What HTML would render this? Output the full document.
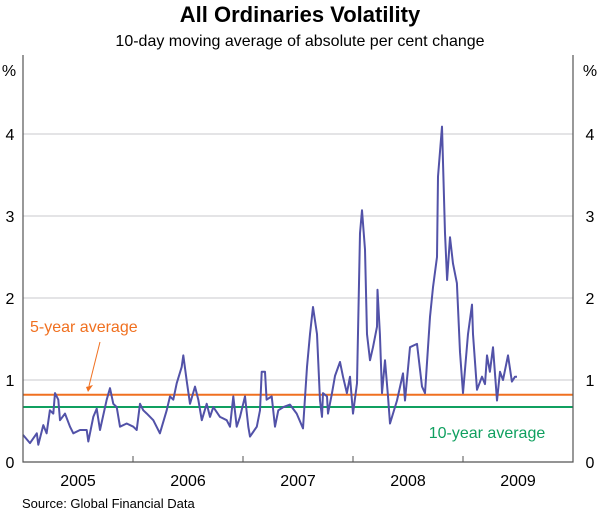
<!DOCTYPE html>
<html><head><meta charset="utf-8"><style>
body{margin:0;background:#fff;}
svg{display:block;font-family:"Liberation Sans",Arial,sans-serif;}
</style></head><body>
<svg id="chart" width="600" height="515">
<text x="300" y="22" text-anchor="middle" font-size="22" font-weight="bold" fill="#000">All Ordinaries Volatility</text>
<text x="300" y="46" text-anchor="middle" font-size="16" fill="#000">10-day moving average of absolute per cent change</text>
<text x="9" y="76" text-anchor="middle" font-size="16">%</text>
<text x="590" y="76" text-anchor="middle" font-size="16">%</text>
<g id="grid"></g>
<g id="avg"></g>
<g id="series"></g>
<g id="axes"></g>
<text x="30" y="332" font-size="16" fill="#f07020">5-year average</text>
<line x1="100" y1="342" x2="89" y2="386" stroke="#f07020" stroke-width="1"/>
<polygon points="86,387 93,385 88,392" fill="#f07020"/>
<text x="487" y="438" text-anchor="middle" font-size="16" fill="#10a060">10-year average</text>
<text x="22" y="508" font-size="13" fill="#000">Source: Global Financial Data</text>
</svg>
<script>
const dates=[2005,2005.064,2005.125,2005.139,2005.185,2005.215,2005.245,2005.275,2005.291,2005.321,2005.336,2005.382,2005.427,2005.457,2005.518,2005.579,2005.594,2005.639,2005.670,2005.700,2005.761,2005.791,2005.821,2005.852,2005.882,2005.943,2006.003,2006.034,2006.064,2006.094,2006.125,2006.185,2006.245,2006.306,2006.336,2006.366,2006.397,2006.443,2006.457,2006.488,2006.518,2006.564,2006.594,2006.625,2006.670,2006.700,2006.730,2006.791,2006.852,2006.882,2006.912,2006.943,2006.973,2007.018,2007.048,2007.064,2007.125,2007.155,2007.170,2007.200,2007.215,2007.261,2007.291,2007.321,2007.366,2007.427,2007.488,2007.545,2007.582,2007.609,2007.636,2007.673,2007.700,2007.718,2007.727,2007.764,2007.773,2007.809,2007.836,2007.882,2007.909,2007.945,2007.973,2008.000,2008.036,2008.064,2008.082,2008.109,2008.127,2008.155,2008.182,2008.218,2008.223,2008.245,2008.264,2008.291,2008.318,2008.336,2008.400,2008.455,2008.473,2008.518,2008.582,2008.627,2008.655,2008.700,2008.727,2008.764,2008.773,2008.809,2008.836,2008.855,2008.882,2008.909,2008.945,2008.973,2009.000,2009.045,2009.082,2009.091,2009.127,2009.173,2009.200,2009.218,2009.245,2009.273,2009.309,2009.336,2009.364,2009.409,2009.445,2009.473,2009.491];
const values=[0.33,0.23,0.35,0.21,0.45,0.35,0.63,0.59,0.84,0.76,0.51,0.59,0.43,0.35,0.39,0.39,0.25,0.55,0.65,0.39,0.76,0.90,0.71,0.67,0.43,0.47,0.43,0.39,0.71,0.63,0.59,0.51,0.35,0.63,0.80,0.76,0.96,1.16,1.30,0.99,0.71,0.92,0.76,0.51,0.71,0.55,0.67,0.55,0.51,0.43,0.80,0.43,0.55,0.80,0.43,0.31,0.43,0.63,1.10,1.10,0.76,0.80,0.43,0.63,0.67,0.70,0.59,0.41,1.16,1.56,1.89,1.56,0.75,0.55,0.84,0.80,0.59,0.84,1.05,1.22,1.04,0.84,1.04,0.59,0.96,2.79,3.07,2.59,1.56,1.24,1.40,1.65,2.10,1.56,0.84,1.24,0.80,0.47,0.75,1.08,0.75,1.40,1.44,0.92,0.84,1.77,2.13,2.50,3.48,4.09,2.79,2.22,2.74,2.42,2.18,1.34,0.84,1.56,1.92,1.56,0.88,1.04,0.95,1.30,1.10,1.40,0.75,1.10,1.00,1.30,0.98,1.04,1.04];
const yTicks=[0,1,2,3,4];
const years=[2005,2006,2007,2008,2009];
const fiveYearAvg=0.82;
const tenYearAvg=0.67;

const L=23,R=573,T=55,B=462;
const x=t=>L+(t-2005)/5*(R-L);
const y=v=>B-v*82;
const NS="http://www.w3.org/2000/svg";
function mk(tag,attrs,parent){const e=document.createElementNS(NS,tag);for(const k in attrs)e.setAttribute(k,attrs[k]);document.getElementById(parent).appendChild(e);return e;}

yTicks.forEach(v=>{
  if(v>0){const g=mk('line',{x1:L,x2:R,y1:y(v),y2:y(v),stroke:'#c8c8cc','stroke-width':1},'grid');
  
  }
  const a=mk('text',{x:10,y:y(v)+6,'text-anchor':'middle','font-size':16},'axes');a.textContent=v;
  
  
  const b=mk('text',{x:590,y:y(v)+6,'text-anchor':'middle','font-size':16},'axes');b.textContent=v;
  
  
});
const a5=mk('line',{x1:L,x2:R,y1:y(fiveYearAvg),y2:y(fiveYearAvg),stroke:'#f07020','stroke-width':2},'avg');


const a10=mk('line',{x1:L,x2:R,y1:y(tenYearAvg),y2:y(tenYearAvg),stroke:'#10a060','stroke-width':2},'avg');


const p=mk('polyline',{points:dates.map((d,i)=>x(d).toFixed(1)+','+y(values[i]).toFixed(1)).join(' '),fill:'none',stroke:'#5252a8','stroke-width':2,'stroke-linejoin':'round'},'series');


const fr=mk('path',{d:`M${L},${T}V${B}H${R}V${T}`,fill:'none',stroke:'#555','stroke-width':1.2},'axes');


years.forEach((yr,i)=>{
  if(i>0){const t=mk('line',{x1:x(yr),x2:x(yr),y1:B,y2:B-6,stroke:'#555'},'axes');
  
  }
  const l=mk('text',{x:x(yr+0.5),y:486,'text-anchor':'middle','font-size':16},'axes');l.textContent=yr;
  
  
});
</script>
</body></html>
